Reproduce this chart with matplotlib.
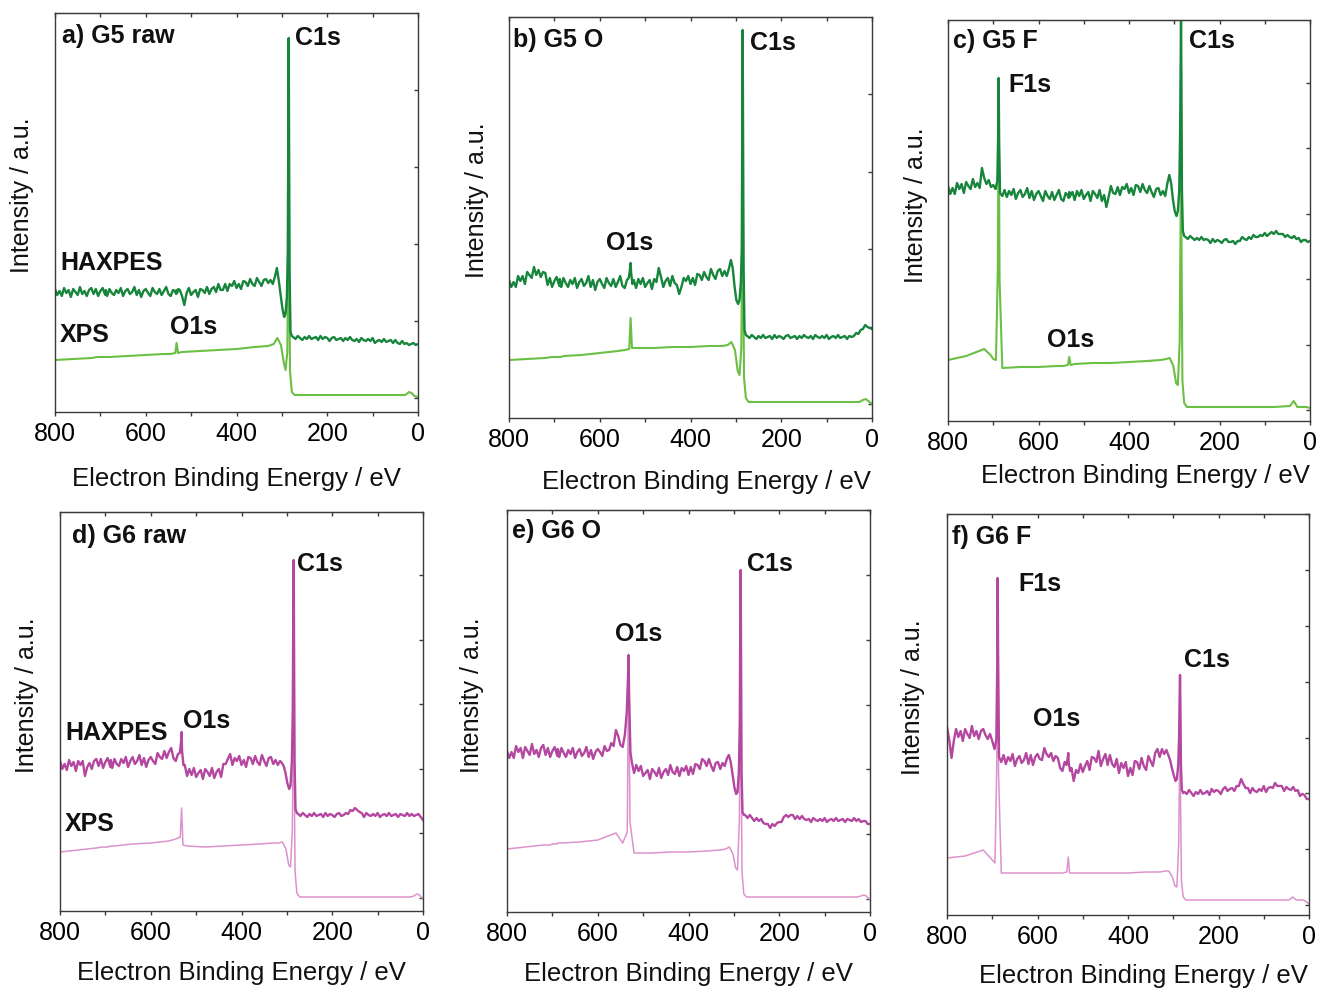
import numpy as np
import matplotlib
matplotlib.use("Agg")
import matplotlib.pyplot as plt
from matplotlib.ticker import MultipleLocator

plt.rcParams['font.family'] = ['Liberation Sans', 'DejaVu Sans']

FIG_W, FIG_H = 1317, 988

# binding energy columns (eV), shared by all survey spectra
haxpes_energy = [800, 795, 790, 785, 780, 775, 770, 765, 760, 755, 750, 745, 740, 735, 730, 725, 720,
                 715, 710, 705, 700, 695, 691, 689, 688, 687, 685, 680, 675,
                 670, 665, 660, 655, 650, 645, 640, 635, 630, 625, 620, 615, 610, 605, 600, 595, 590, 585, 580, 575,
                 570, 565, 560, 555, 550, 545, 540,
                 536, 533, 532, 531, 528,
                 525, 520, 515, 510, 505, 500, 495, 490, 485, 480, 475, 470, 465, 460, 455, 450, 445, 440, 435, 430,
                 425, 420, 415, 410, 405, 400, 395, 390, 385, 380, 375, 370, 365, 360, 355, 350, 345, 340, 335, 330,
                 325, 320,
                 315, 311, 307, 303, 299, 295, 292, 289, 287, 286, 285, 284, 283, 281, 278,
                 275, 270, 265, 260, 255, 250, 245, 240, 235, 230, 225, 220, 215, 210, 205, 200, 195, 190, 185, 180,
                 175, 170, 165, 160, 155, 150, 145, 140, 135, 130, 125, 120, 115, 110, 105, 100, 95, 90, 85, 80,
                 75, 70, 65, 60, 55, 50, 45, 40, 35, 30, 25, 20, 15, 10, 5, 0]
xps_energy = [800, 760, 720, 706, 700, 694, 690, 688, 686, 680,
              640, 600, 560, 545, 535, 532, 529, 520, 480, 440,
              400, 360, 330, 318, 310, 302, 296, 292, 288, 286,
              285, 284, 282, 278, 272, 266, 240, 200, 160, 120,
              80, 44, 36, 28, 20, 14, 8, 0]

# intensities (a.u.)
haxpes_g5_raw = [123, 117, 121, 116, 124, 119, 122, 115, 123, 120, 117, 125, 118, 121, 116, 122, 124,
                 118, 123, 116, 121, 124, 119, 117, 122, 120, 116, 123, 119,
                 117, 122, 119, 124, 116, 121, 123, 118, 120, 125, 117, 122, 115, 121, 123, 119, 116, 124, 120, 118,
                 123, 117, 121, 125, 118, 116, 122,
                 121, 118, 122, 119, 123,
                 122, 116, 107, 119, 124, 117, 120, 122, 115, 123, 122, 119, 125, 118, 123, 125, 120, 128, 122, 122,
                 128, 121, 128, 126, 131, 124, 128, 123, 131, 130, 126, 133, 128, 126, 134, 130, 126, 132, 133, 129,
                 132, 128,
                 136, 144, 132, 118, 104, 95, 98, 115, 160, 260, 374, 250, 140, 80, 76,
                 75, 73, 76, 74, 72, 75, 73, 76, 73, 74, 75, 72, 76, 73, 75, 74, 71, 74, 75, 72,
                 73, 74, 71, 74, 72, 75, 72, 71, 73, 70, 74, 72, 71, 73, 71, 74, 69, 71, 72, 70,
                 73, 70, 71, 72, 69, 72, 69, 68, 71, 68, 69, 67, 68, 69, 67, 68]
xps_g5_raw = [52, 53, 54, 55, 55, 55, 55, 55, 55, 55,
              56, 57, 58, 58, 59, 69, 59, 60, 61, 62,
              63, 65, 66, 68, 74, 67, 50, 42, 60, 160,
              330, 150, 40, 20, 17, 17, 17, 17, 17, 17,
              17, 17, 17, 17, 20, 19, 16, 15]

haxpes_g5_o = [138, 131, 136, 131, 142, 137, 142, 134, 146, 143, 140, 151, 143, 148, 141, 146, 145,
               133, 140, 131, 137, 141, 135, 132, 139, 136, 131, 140, 135,
               131, 138, 134, 140, 130, 136, 139, 132, 135, 142, 131, 138, 128, 136, 139, 134, 130, 140, 135, 132,
               139, 131, 136, 142, 132, 130, 138,
               140, 150, 155, 146, 134,
               138, 130, 139, 134, 140, 131, 135, 138, 129, 139, 136, 150, 141, 131, 137, 140, 132, 142, 135, 133,
               124, 131, 140, 137, 142, 134, 140, 133, 144, 143, 138, 146, 141, 138, 149, 143, 139, 147, 149, 142,
               147, 142,
               150, 158, 150, 132, 118, 114, 118, 135, 170, 280, 388, 260, 150, 88, 83,
               82, 80, 83, 81, 79, 82, 80, 83, 80, 81, 82, 79, 83, 80, 82, 81, 79, 82, 83, 80,
               81, 82, 79, 82, 80, 83, 81, 80, 82, 79, 83, 81, 80, 82, 80, 83, 79, 81, 82, 80,
               83, 80, 81, 82, 79, 82, 81, 82, 85, 84, 88, 89, 93, 91, 90, 89]
xps_g5_o = [58, 59, 60, 61, 61, 61, 61, 61, 61, 62,
            63, 65, 67, 68, 69, 100, 70, 70, 70, 71,
            71, 72, 72, 73, 76, 68, 47, 43, 70, 180,
            340, 160, 40, 20, 16, 16, 16, 16, 16, 16,
            16, 16, 16, 16, 18, 19, 17, 14]

haxpes_g5_f = [235, 227, 233, 227, 238, 232, 237, 228, 239, 235, 232, 242, 234, 238, 233, 253, 243,
               237, 241, 234, 236, 232, 240, 290, 343, 280, 228, 225, 231,
               224, 230, 226, 232, 222, 228, 231, 224, 227, 233, 223, 230, 221, 227, 230, 225, 220, 230, 225, 222,
               229, 221, 226, 231, 222, 220, 228,
               226, 223, 229, 224, 227,
               229, 221, 230, 225, 231, 222, 226, 229, 220, 230, 227, 223, 231, 220, 226, 214, 224, 235, 228, 227,
               234, 226, 234, 232, 237, 228, 233, 226, 236, 235, 229, 237, 231, 228, 235, 229, 224, 232, 233, 226,
               230, 225,
               238, 246, 238, 222, 210, 205, 210, 230, 290, 350, 410, 320, 230, 190, 185,
               184, 182, 185, 183, 181, 183, 181, 184, 181, 182, 181, 178, 182, 179, 181, 180, 178, 181, 182, 179,
               179, 180, 177, 180, 180, 184, 182, 181, 184, 182, 186, 184, 184, 186, 185, 188, 185, 187, 189, 187,
               190, 187, 187, 187, 184, 186, 184, 183, 185, 182, 183, 179, 181, 181, 179, 180]
xps_g5_f = [61, 65, 72, 66, 62, 61, 150, 320, 140, 53,
            54, 54, 55, 55, 56, 64, 56, 57, 58, 58,
            59, 60, 61, 62, 63, 55, 38, 36, 80, 200,
            350, 180, 40, 18, 14, 14, 14, 14, 14, 14,
            14, 15, 20, 14, 14, 14, 14, 13]

haxpes_g6_raw = [150, 142, 147, 141, 151, 145, 149, 140, 150, 146, 150, 135, 144, 148, 142, 150, 152,
                 145, 152, 143, 149, 153, 147, 144, 151, 148, 143, 152, 147,
                 145, 152, 148, 154, 144, 150, 154, 147, 150, 156, 146, 153, 144, 151, 154, 150, 147, 158, 154, 152,
                 160, 153, 159, 163, 153, 150, 157,
                 158, 170, 179, 160, 146,
                 146, 135, 142, 136, 143, 134, 138, 141, 132, 142, 139, 135, 143, 133, 139, 142, 134, 147, 147, 152,
                 157, 146, 153, 150, 155, 146, 151, 144, 154, 153, 147, 155, 149, 146, 156, 150, 145, 153, 154, 147,
                 151, 146,
                 150, 148, 145, 138, 128, 122, 125, 150, 200, 290, 351, 250, 150, 102, 98,
                 97, 95, 98, 96, 94, 97, 95, 98, 95, 96, 97, 94, 98, 95, 97, 96, 94, 97, 98, 95,
                 96, 98, 97, 101, 100, 103, 101, 99, 98, 94, 98, 96, 95, 97, 95, 98, 94, 96, 97, 95,
                 98, 95, 96, 97, 94, 97, 96, 95, 98, 95, 97, 95, 96, 97, 94, 91]
xps_g6_raw = [59, 61, 63, 64, 64, 64, 65, 65, 65, 65,
              67, 68, 70, 72, 74, 103, 66, 65, 64, 65,
              66, 67, 68, 68, 69, 62, 46, 44, 80, 170,
              320, 150, 40, 18, 14, 14, 14, 14, 14, 14,
              14, 14, 14, 14, 15, 17, 16, 12]

haxpes_g6_o = [161, 154, 160, 154, 166, 160, 164, 154, 165, 161, 157, 168, 158, 162, 155, 164, 167,
               157, 164, 155, 161, 165, 159, 156, 163, 160, 155, 164, 159,
               155, 162, 158, 164, 154, 160, 163, 156, 159, 165, 155, 162, 153, 160, 163, 160, 156, 166, 161, 162,
               169, 166, 182, 176, 167, 165, 178,
               200, 240, 257, 220, 160,
               150, 139, 147, 141, 146, 136, 139, 142, 133, 143, 140, 136, 144, 134, 140, 143, 137, 147, 140, 138,
               145, 136, 144, 141, 146, 137, 145, 138, 148, 147, 143, 153, 151, 146, 153, 146, 141, 149, 150, 143,
               149, 146,
               154, 157, 150, 138, 125, 118, 120, 140, 190, 280, 342, 240, 140, 100, 97,
               97, 94, 97, 94, 91, 94, 91, 93, 89, 88, 88, 84, 88, 86, 89, 90, 90, 95, 97, 95,
               97, 97, 93, 96, 93, 96, 93, 92, 93, 90, 94, 92, 91, 93, 91, 94, 90, 92, 93, 91,
               94, 91, 92, 93, 90, 93, 92, 91, 94, 91, 93, 90, 91, 91, 88, 88]
xps_g6_o = [63, 65, 67, 67, 68, 68, 68, 69, 69, 69,
            70, 72, 79, 69, 80, 250, 90, 59, 59, 60,
            60, 61, 62, 63, 65, 58, 44, 42, 90, 200,
            330, 150, 40, 18, 15, 15, 15, 15, 15, 15,
            15, 15, 15, 15, 16, 17, 16, 12]

haxpes_g6_f = [188, 175, 157, 174, 186, 178, 184, 174, 186, 181, 177, 189, 179, 184, 176, 184, 186,
               180, 176, 181, 174, 166, 175, 250, 337, 260, 158, 153, 160,
               151, 158, 154, 161, 149, 156, 159, 152, 155, 162, 151, 160, 150, 158, 161, 156, 155, 167, 161, 158,
               162, 154, 159, 157, 147, 144, 153,
               150, 158, 162, 152, 144,
               147, 134, 145, 142, 151, 143, 149, 154, 145, 158, 157, 153, 164, 149, 156, 161, 150, 160, 151, 148,
               156, 142, 152, 147, 153, 139, 147, 140, 154, 153, 146, 157, 149, 145, 159, 154, 149, 162, 166, 158,
               166, 161,
               165, 160, 155, 147, 140, 134, 136, 150, 180, 215, 240, 200, 150, 125, 122,
               123, 121, 125, 122, 119, 123, 121, 125, 121, 122, 124, 120, 126, 123, 125, 124, 121, 126, 128, 124,
               126, 127, 124, 129, 129, 136, 131, 127, 127, 122, 127, 124, 123, 126, 124, 129, 123, 127, 128, 127,
               132, 129, 129, 129, 124, 128, 126, 125, 128, 124, 125, 119, 121, 120, 116, 116]
xps_g6_f = [57, 59, 65, 58, 55, 52, 150, 320, 140, 42,
            42, 42, 42, 42, 43, 58, 42, 42, 42, 42,
            42, 43, 43, 44, 44, 38, 29, 28, 70, 150,
            235, 120, 35, 18, 15, 15, 15, 15, 15, 15,
            15, 15, 18, 15, 15, 15, 14, 11]

g5_colors = ('#17853b', '#6cbf45')   # HAXPES, XPS
g6_colors = ('#b4479f', '#dc93cc')

# panel boxes in pixels (left, top, right, bottom), right-axis tick (start, step),
# label centres in pixels, peak labels in data coords (eV, a.u.)
panels = [
    dict(hax=haxpes_g5_raw, xps=xps_g5_raw, colors=g5_colors, xps_lw=1.5,
         box=(55, 13, 418, 412), yt=(14, 77), ylab=(22, 195), xlab=(236, 479),
         notes=[('a) G5 raw', 784, 376), ('C1s', 271, 374), ('HAXPES', 789, 149),
                ('XPS', 789, 77), ('O1s', 546, 85)]),
    dict(hax=haxpes_g5_o, xps=xps_g5_o, colors=g5_colors, xps_lw=1.5,
         box=(509, 17, 872, 418), yt=(14, 77.5), ylab=(477, 200), xlab=(706, 482),
         notes=[('b) G5 O', 791, 378), ('C1s', 269, 375), ('O1s', 586, 175)]),
    dict(hax=haxpes_g5_f, xps=xps_g5_f, colors=g5_colors, xps_lw=1.5,
         box=(948, 20, 1310, 421), yt=(11, 65.5), ylab=(916, 205), xlab=(1145, 476),
         notes=[('c) G5 F', 789, 380), ('C1s', 267, 380), ('F1s', 667, 336), ('O1s', 581, 81)]),
    dict(hax=haxpes_g6_raw, xps=xps_g6_raw, colors=g6_colors, xps_lw=1.1,
         box=(60, 512, 423, 911), yt=(13, 64.6), ylab=(27, 695), xlab=(241, 973),
         notes=[('d) G6 raw', 773, 375), ('C1s', 278, 347), ('HAXPES', 789, 178),
                ('O1s', 529, 190), ('XPS', 789, 87)]),
    dict(hax=haxpes_g6_o, xps=xps_g6_o, colors=g6_colors, xps_lw=1.1,
         box=(507, 510, 870, 912), yt=(13, 64.8), ylab=(472, 695), xlab=(688, 974),
         notes=[('e) G6 O', 789, 381), ('C1s', 271, 348), ('O1s', 562, 278)]),
    dict(hax=haxpes_g6_f, xps=xps_g6_f, colors=g6_colors, xps_lw=1.1,
         box=(947, 514, 1309, 915), yt=(10, 55.8), ylab=(913, 697), xlab=(1143, 976),
         notes=[('f) G6 F', 789, 378), ('F1s', 643, 331), ('C1s', 276, 255), ('O1s', 610, 196)]),
]

for p in panels:
    assert len(p['hax']) == len(haxpes_energy), len(p['hax'])
    assert len(p['xps']) == len(xps_energy), len(p['xps'])

fig = plt.figure(figsize=(FIG_W / 100, FIG_H / 100), dpi=100)
spine_col = '#3a3a3a'

for p in panels:
    l, t, r, b = p['box']
    ax = fig.add_axes([l / FIG_W, 1 - b / FIG_H, (r - l) / FIG_W, (b - t) / FIG_H])
    ax.plot(xps_energy, p['xps'], color=p['colors'][1], lw=p['xps_lw'])
    ax.plot(haxpes_energy, p['hax'], color=p['colors'][0], lw=1.7)
    ax.set_xlim(800, 0)
    ax.set_ylim(0, b - t)

    for s in ax.spines.values():
        s.set_color(spine_col)
        s.set_linewidth(1.0)

    ax.xaxis.set_major_locator(MultipleLocator(200))
    ax.xaxis.set_minor_locator(MultipleLocator(100))
    ax.tick_params(axis='x', which='both', direction='out', length=3, width=1,
                   color=spine_col, labelsize=18, pad=4)
    top = ax.secondary_xaxis('top')
    top.xaxis.set_major_locator(MultipleLocator(100))
    top.tick_params(axis='x', direction='in', length=3, width=1, color=spine_col, labeltop=False)
    top.spines['top'].set_color(spine_col)

    start, step = p['yt']
    ax.set_yticks(np.arange(start, b - t, step))
    ax.tick_params(axis='y', left=False, right=True, labelleft=False, direction='in',
                   length=3, width=1, color=spine_col)

    for txt, e, i in p['notes']:
        ax.text(e, i, txt, fontsize=18, fontweight='bold', ha='left', va='center', color='#111111')

    fig.text(p['ylab'][0] / FIG_W, 1 - p['ylab'][1] / FIG_H, 'Intensity / a.u.',
             rotation=90, ha='center', va='center', fontsize=18, color='#111111')
    fig.text(p['xlab'][0] / FIG_W, 1 - p['xlab'][1] / FIG_H, 'Electron Binding Energy / eV',
             ha='center', va='center', fontsize=18.5, color='#111111')

fig.savefig('out.png', dpi=100)
